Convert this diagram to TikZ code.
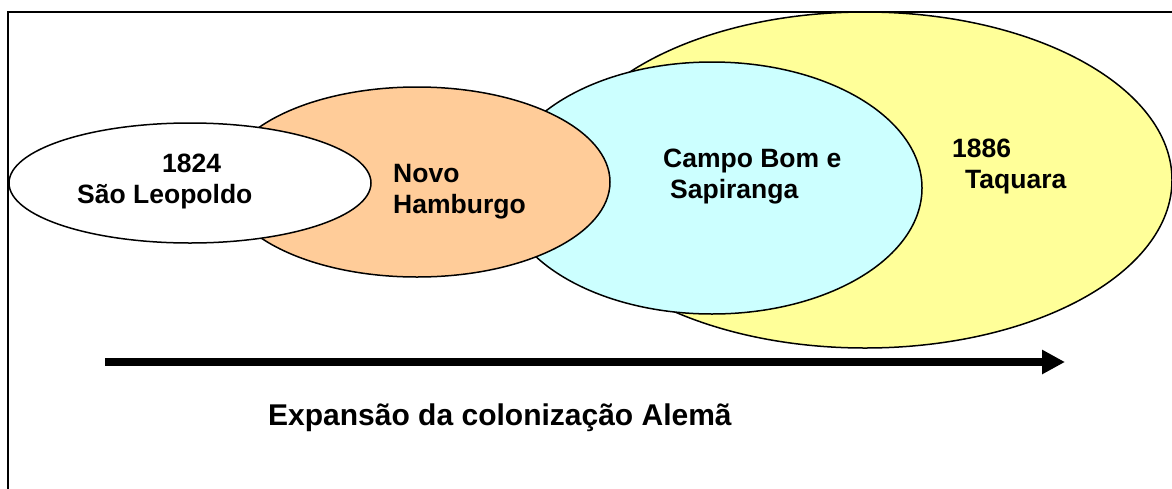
\documentclass[tikz,border=0pt]{standalone}
\usepackage{fontspec}
\setmainfont{Liberation Sans}
\usetikzlibrary{shapes.geometric,arrows.meta}
\definecolor{cyellow}{HTML}{FFFF99}
\definecolor{ccyan}{HTML}{CCFFFF}
\definecolor{corange}{HTML}{FFCC99}
\tikzset{
  blob/.style={ellipse, draw=black, line width=1.5pt, inner sep=0pt},
  lbl/.style={anchor=base west, inner sep=0pt, font=\fontsize{26.5}{31}\selectfont\bfseries},
  ttl/.style={anchor=base west, inner sep=0pt, font=\fontsize{30}{36}\selectfont\bfseries},
  frame/.style={draw=black, line width=1.5pt}
}
\begin{document}
\begin{tikzpicture}[x=1pt,y=-1pt]
\useasboundingbox (0,0) rectangle (1172,488);
\clip (0,0) rectangle (1172,488);
\draw[frame] (8,490) -- (8,12) -- (1174,12);
\node[blob, fill=cyellow, minimum width=614pt, minimum height=336pt] (taq) at (865,180) {};
\node[blob, fill=ccyan, minimum width=420pt, minimum height=252pt] (cbs) at (712,188) {};
\node[blob, fill=corange, minimum width=386pt, minimum height=190pt] (nh) at (417,182) {};
\node[blob, fill=white, minimum width=362pt, minimum height=120pt] (sl) at (190,183) {};
\node[lbl] (t1824) at (162,172) {1824};
\node[lbl] (tsl) at (77,203) {São Leopoldo};
\node[lbl] (tnovo) at (393,182) {Novo};
\node[lbl] (tham) at (393,213) {Hamburgo};
\node[lbl] (tcb) at (663,167) {Campo Bom e};
\node[lbl] (tsap) at (670,198) {Sapiranga};
\node[lbl] (t1886) at (952,157) {1886};
\node[lbl] (ttaq) at (965,188) {Taquara};
\coordinate (a1) at (105,362);
\coordinate (a2) at (1065,362);
\draw[line width=8pt, -{Triangle[length=23pt,width=23pt]}] (a1) -- (a2);
\node[ttl] (title) at (268,425) {Expansão da colonização Alemã};
\end{tikzpicture}
\end{document}
